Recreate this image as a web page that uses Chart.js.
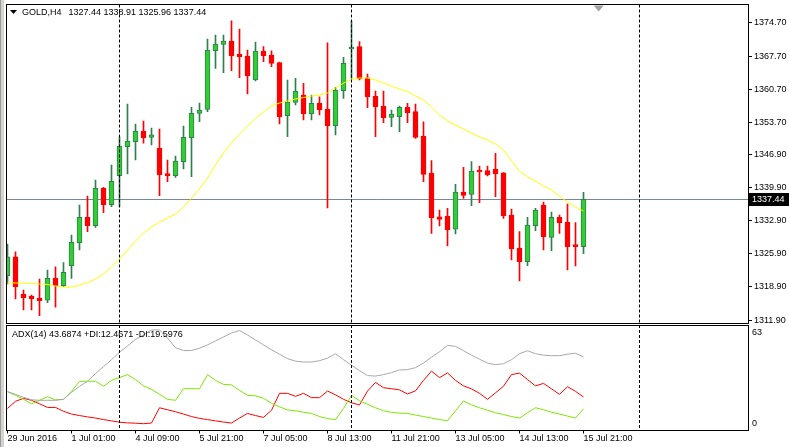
<!DOCTYPE html>
<html>
<head>
<meta charset="utf-8">
<script src="https://cdn.jsdelivr.net/npm/chart.js@4.4.0/dist/chart.umd.min.js"></script>
<style>
  html, body { margin: 0; padding: 0; background: #fff; }
  #wrap { position: relative; width: 789px; height: 447px; overflow: hidden; }
  canvas { position: absolute; left: 0; }
  #priceChart { top: 0; }
  #adxChart { top: 324px; }
</style>
</head>
<body>
<div id="wrap">
  <canvas id="priceChart" width="789" height="324"></canvas>
  <canvas id="adxChart" width="789" height="123"></canvas>
</div>
<script>
// GOLD H4 candles (bar 0 = 29 Jun 2016)
const openP = [1321.28, 1325.29, 1317.41, 1316.99, 1316.56, 1316.08, 1320.79, 1319.17, 1323.39, 1328.25,
  1333.62, 1331.85, 1339.75, 1336.29, 1342.42, 1348.55, 1349.60, 1351.87, 1350.53, 1348.27,
  1342.78, 1342.42, 1345.38, 1350.45, 1355.61, 1356.45, 1368.84, 1370.19, 1370.89, 1368.14,
  1367.72, 1362.65, 1368.78, 1367.93, 1366.31, 1355.10, 1357.93, 1359.48, 1355.46, 1357.72,
  1356.52, 1352.99, 1360.39, 1369.20, 1369.69, 1363.13, 1359.27, 1357.15, 1354.76, 1354.89,
  1356.88, 1355.95, 1350.81, 1342.99, 1333.75, 1333.90, 1331.09, 1338.97, 1338.48, 1343.48,
  1343.48, 1343.83, 1343.05, 1334.11, 1327.13, 1324.24, 1331.85, 1336.22, 1329.39, 1333.63,
  1332.63, 1327.70, 1327.44];
const highP = [1327.98, 1326.35, 1318.25, 1317.20, 1320.58, 1322.48, 1323.18, 1324.03, 1329.88, 1336.22,
  1338.13, 1341.51, 1339.95, 1344.68, 1350.66, 1357.57, 1353.35, 1353.98, 1352.50, 1352.29,
  1345.74, 1346.58, 1352.92, 1356.88, 1357.78, 1371.32, 1372.16, 1372.16, 1375.18, 1373.43,
  1368.99, 1370.68, 1369.69, 1368.84, 1366.45, 1362.65, 1363.00, 1361.95, 1359.48, 1359.10,
  1370.53, 1361.10, 1367.45, 1375.12, 1370.75, 1363.92, 1360.32, 1360.32, 1356.31, 1357.15,
  1357.72, 1357.57, 1353.83, 1345.59, 1335.17, 1335.53, 1340.60, 1344.19, 1345.38, 1344.47,
  1344.47, 1347.15, 1343.10, 1335.38, 1330.58, 1333.63, 1335.53, 1336.86, 1334.74, 1334.11,
  1336.43, 1332.49, 1338.91];
const lowP = [1319.52, 1316.35, 1314.03, 1314.03, 1312.82, 1315.57, 1314.60, 1318.95, 1320.73, 1326.71,
  1330.58, 1331.51, 1334.60, 1335.86, 1335.86, 1342.78, 1345.74, 1349.27, 1348.90, 1338.19,
  1341.15, 1342.08, 1343.83, 1342.21, 1353.83, 1355.95, 1365.12, 1364.19, 1364.61, 1363.13,
  1359.69, 1362.44, 1366.52, 1365.46, 1353.35, 1350.66, 1357.36, 1354.19, 1354.19, 1355.25,
  1335.59, 1351.02, 1358.78, 1363.00, 1362.65, 1356.79, 1350.66, 1353.62, 1352.78, 1351.72,
  1353.62, 1350.32, 1341.15, 1330.23, 1331.78, 1327.56, 1330.09, 1337.64, 1336.08, 1336.71,
  1342.36, 1337.98, 1333.41, 1324.60, 1320.16, 1323.39, 1330.79, 1326.71, 1326.56, 1330.23,
  1322.48, 1323.33, 1325.96];
const closeP = [1325.29, 1318.95, 1316.63, 1316.41, 1315.99, 1320.73, 1319.17, 1321.99, 1328.34, 1333.62,
  1331.85, 1339.75, 1336.29, 1341.23, 1348.70, 1349.75, 1351.87, 1350.45, 1351.08, 1342.63,
  1342.42, 1345.52, 1350.53, 1355.61, 1356.31, 1368.99, 1370.26, 1370.89, 1367.78, 1367.57,
  1363.56, 1368.78, 1367.78, 1366.18, 1354.89, 1358.00, 1360.32, 1355.52, 1357.72, 1356.31,
  1352.92, 1360.53, 1366.18, 1369.56, 1362.86, 1359.10, 1357.00, 1354.68, 1355.40, 1356.88,
  1355.74, 1350.53, 1342.71, 1333.54, 1333.20, 1330.94, 1338.97, 1338.27, 1343.41, 1343.20,
  1342.57, 1342.78, 1333.90, 1326.92, 1324.24, 1332.00, 1335.17, 1329.52, 1333.63, 1332.49,
  1327.41, 1327.41, 1337.44];

// yellow moving average
const maLine = [1319.80, 1319.73, 1319.73, 1319.63, 1319.52, 1319.42, 1319.10, 1318.89, 1318.82, 1319.31,
  1319.80, 1320.58, 1321.64, 1323.11, 1324.81, 1326.71, 1328.61, 1330.30, 1331.57, 1332.63,
  1333.47, 1334.32, 1335.80, 1337.70, 1339.61, 1341.93, 1344.68, 1347.22, 1349.33, 1351.23,
  1352.92, 1354.61, 1355.88, 1357.15, 1357.79, 1358.21, 1358.63, 1358.95, 1359.27, 1359.48,
  1359.90, 1360.96, 1362.01, 1362.75, 1363.07, 1363.07, 1362.65, 1362.01, 1361.38, 1360.75,
  1360.22, 1359.27, 1358.42, 1356.94, 1355.25, 1353.98, 1353.13, 1352.29, 1351.44, 1350.60,
  1349.96, 1349.12, 1347.85, 1345.52, 1343.41, 1342.14, 1341.30, 1340.24, 1339.40, 1338.13,
  1336.86, 1335.80, 1334.95];

// ADX(14) window
const adxLine = [22.8, 21.2, 19.4, 17.9, 17.6, 17.6, 17.6, 18.2, 22.4, 26.0,
  29.1, 33.7, 37.9, 42.1, 46.6, 50.4, 54.3, 57.0, 60.0, 60.0,
  55.2, 49.3, 47.6, 47.6, 49.0, 51.0, 53.4, 55.8, 58.2, 59.7,
  57.0, 54.0, 51.0, 48.1, 45.4, 42.7, 41.2, 40.7, 40.7, 41.5,
  43.0, 45.7, 42.1, 38.8, 35.5, 32.5, 32.2, 33.1, 34.3, 35.9,
  36.1, 37.3, 40.1, 43.6, 46.9, 50.7, 50.1, 47.5, 44.8, 42.4,
  40.0, 39.1, 39.7, 42.1, 45.7, 47.5, 45.7, 44.8, 44.5, 44.5,
  45.4, 46.0, 43.69];
const plusDI = [22.8, 20.6, 18.2, 15.5, 17.6, 19.8, 17.9, 18.2, 23.0, 29.0,
  29.1, 29.1, 26.1, 29.6, 31.3, 33.1, 30.1, 26.3, 24.2, 21.2,
  18.2, 17.6, 24.6, 24.6, 24.5, 33.1, 29.6, 27.2, 26.9, 23.6,
  20.6, 20.3, 18.8, 15.8, 13.7, 11.8, 11.3, 10.4, 9.7, 7.8,
  6.6, 5.9, 12.7, 20.6, 17.3, 15.2, 13.1, 11.3, 10.3, 9.9,
  9.7, 8.7, 7.8, 6.9, 6.0, 5.3, 11.3, 17.2, 14.9, 13.1,
  11.6, 10.1, 9.0, 7.8, 6.9, 10.1, 13.1, 11.9, 10.4, 9.3,
  8.1, 6.9, 12.47];
const minusDI = [12.7, 17.0, 18.8, 17.6, 15.5, 13.3, 13.3, 11.0, 9.3, 8.4,
  7.6, 6.9, 6.0, 5.2, 4.4, 4.0, 3.8, 3.5, 3.9, 13.1,
  11.9, 10.7, 9.3, 7.8, 6.7, 6.0, 5.2, 4.5, 3.9, 6.9,
  9.7, 8.4, 7.3, 11.6, 21.8, 21.8, 20.0, 21.8, 19.2, 19.2,
  23.2, 20.9, 18.2, 16.1, 14.8, 23.2, 28.4, 25.2, 24.6, 23.9,
  21.4, 23.3, 29.6, 35.2, 31.3, 34.1, 29.6, 26.3, 24.5, 21.8,
  18.2, 22.1, 26.1, 33.1, 34.0, 30.1, 26.3, 27.8, 24.5, 21.2,
  25.8, 23.0, 19.6];

const priceTicks = [1374.70, 1367.70, 1360.70, 1353.70, 1346.90, 1339.90, 1332.90, 1325.90, 1318.90, 1311.90];
const timeTickIdx = [0, 8, 16, 24, 32, 40, 48, 56, 64, 72];
const timeTickLabels = ['29 Jun 2016', '1 Jul 01:00', '4 Jul 09:00', '5 Jul 21:00', '7 Jul 05:00',
  '8 Jul 13:00', '11 Jul 21:00', '13 Jul 05:00', '14 Jul 13:00', '15 Jul 21:00'];
const separatorIdx = [14, 43, 79];
const bidPrice = 1337.44;
const adxHeader = 'ADX(14) 43.6874 +DI:12.4671 -DI:19.5976';

const FONT = "'Liberation Sans', Tahoma, sans-serif";
const BULL = '#32CD32', BULL_EDGE = '#2F7F4F', BEAR = '#FF0000';

const bars = openP.map((_, i) => i);
const isBull = bars.map(i => closeP[i] >= openP[i]);

// shared x mapping: 8px per bar, chart area from 6.5 to 748
const X_MIN = -0.125, X_MAX = 92.5625;

// keep the layout from reserving room for half-labels at the ends
function noPad(scale) {
  scale.paddingTop = 0;
  scale.paddingBottom = 0;
  scale.paddingLeft = 0;
  scale.paddingRight = 0;
}

function drawFrame(chart) {
  const ctx = chart.ctx;
  ctx.save();
  ctx.fillStyle = '#fff';
  ctx.fillRect(0, 0, chart.width, chart.height);
  ctx.fillStyle = '#9a9a9a';
  ctx.fillRect(0, 0, 1, chart.height);
  ctx.fillStyle = '#d6d3ce';
  ctx.fillRect(1, 0, 3, chart.height);
  ctx.restore();
}

function drawSeparators(chart) {
  const {ctx, chartArea: a} = chart;
  const xs = chart.scales.x;
  ctx.save();
  ctx.strokeStyle = '#000';
  ctx.lineWidth = 1;
  ctx.setLineDash([3, 2]);
  separatorIdx.forEach(idx => {
    const px = Math.floor(xs.getPixelForValue(idx)) + 0.5;
    ctx.beginPath();
    ctx.moveTo(px, a.top);
    ctx.lineTo(px, a.bottom);
    ctx.stroke();
  });
  ctx.setLineDash([]);
  ctx.strokeRect(Math.floor(a.left) + 0.5, Math.floor(a.top) + 0.5,
    Math.round(a.right) - Math.floor(a.left), Math.round(a.bottom) - Math.floor(a.top));
  ctx.restore();
}

const priceDecor = {
  id: 'priceDecor',
  beforeDraw(chart) { drawFrame(chart); },
  beforeDatasetsDraw(chart) {
    const {ctx, chartArea: a} = chart;
    const py = Math.floor(chart.scales.y.getPixelForValue(bidPrice)) + 0.5;
    ctx.save();
    ctx.strokeStyle = '#778899';
    ctx.lineWidth = 1;
    ctx.beginPath();
    ctx.moveTo(a.left, py);
    ctx.lineTo(a.right, py);
    ctx.stroke();
    ctx.restore();
  },
  afterDraw(chart) {
    const {ctx, chartArea: a} = chart;
    drawSeparators(chart);
    ctx.save();
    // header
    ctx.fillStyle = '#000';
    ctx.beginPath();
    ctx.moveTo(10, 10); ctx.lineTo(17, 10); ctx.lineTo(13.5, 14); ctx.closePath();
    ctx.fill();
    ctx.font = '9px ' + FONT;
    ctx.textBaseline = 'middle';
    ctx.fillText('GOLD,H4', 22, 13);
    const w = ctx.measureText('GOLD,H4').width;
    ctx.fillText([openP, highP, lowP, closeP].map(s => s[s.length - 1].toFixed(2)).join(' '), 22 + w + 7, 13);
    // bid price label on the axis
    const py = Math.floor(chart.scales.y.getPixelForValue(bidPrice));
    ctx.fillRect(a.right + 1, py - 6, chart.width - a.right - 1, 13);
    ctx.fillStyle = '#fff';
    ctx.fillText(bidPrice.toFixed(2), a.right + 4, py + 0.5);
    // chart shift marker
    const sx = chart.scales.x.getPixelForValue(73.9);
    ctx.fillStyle = '#a0a0a0';
    ctx.beginPath();
    ctx.moveTo(sx - 5, a.top + 1); ctx.lineTo(sx + 5, a.top + 1); ctx.lineTo(sx, a.top + 7); ctx.closePath();
    ctx.fill();
    ctx.restore();
  }
};

const adxDecor = {
  id: 'adxDecor',
  beforeDraw(chart) { drawFrame(chart); },
  afterDraw(chart) {
    const {ctx, chartArea: a} = chart;
    drawSeparators(chart);
    ctx.save();
    ctx.fillStyle = '#000';
    ctx.font = '9px ' + FONT;
    ctx.textBaseline = 'middle';
    ctx.fillText(adxHeader, 12, 11);
    const ys = chart.scales.y;
    ctx.fillText('63', a.right + 4, ys.getPixelForValue(63) + 8);
    ctx.fillText('0', a.right + 4, ys.getPixelForValue(0) - 6);
    ctx.restore();
  }
};

const xScaleBase = {
  type: 'linear',
  min: X_MIN,
  max: X_MAX,
  bounds: 'data',
  offset: false,
  grid: { display: false, offset: false },
  border: { display: false }
};

new Chart(document.getElementById('priceChart'), {
  type: 'bar',
  data: {
    datasets: [
      {
        type: 'line',
        data: maLine.map((v, i) => ({ x: i, y: v })),
        borderColor: '#FFFF00',
        borderWidth: 1,
        pointRadius: 0,
        tension: 0,
        order: 0
      },
      {
        type: 'bar',
        data: bars.map(i => ({ x: i, y: [openP[i], closeP[i]] })),
        backgroundColor: isBull.map(b => b ? BULL : BEAR),
        borderColor: isBull.map(b => b ? BULL_EDGE : BEAR),
        borderWidth: 1,
        borderSkipped: false,
        barThickness: 5,
        minBarLength: 2,
        grouped: false,
        order: 1
      },
      {
        type: 'bar',
        data: bars.map(i => ({ x: i, y: [lowP[i], highP[i]] })),
        backgroundColor: isBull.map(b => b ? BULL_EDGE : BEAR),
        borderWidth: 0,
        barThickness: 1,
        grouped: false,
        order: 2
      }
    ]
  },
  options: {
    responsive: false,
    animation: false,
    events: [],
    layout: { padding: { left: 6.5, top: 4.5, right: 0, bottom: 1 } },
    plugins: { legend: { display: false }, tooltip: { enabled: false } },
    scales: {
      x: Object.assign({}, xScaleBase, { display: false }),
      y: {
        type: 'linear',
        position: 'right',
        min: 1311.28,
        max: 1378.61,
        afterFit(scale) { scale.width = 41; noPad(scale); },
        afterBuildTicks(scale) { scale.ticks = priceTicks.map(v => ({ value: v })); },
        grid: { drawOnChartArea: false, drawTicks: true, tickLength: 4, color: '#000' },
        border: { display: false },
        ticks: {
          autoSkip: false,
          padding: 2,
          color: '#000',
          font: { family: FONT, size: 9 },
          callback: v => v.toFixed(2)
        }
      }
    }
  },
  plugins: [priceDecor]
});

new Chart(document.getElementById('adxChart'), {
  type: 'line',
  data: {
    datasets: [
      { data: adxLine.map((v, i) => ({ x: i, y: v })), borderColor: '#A8A8A8' },
      { data: plusDI.map((v, i) => ({ x: i, y: v })), borderColor: '#7CE800' },
      { data: minusDI.map((v, i) => ({ x: i, y: v })), borderColor: '#FF0000' }
    ]
  },
  options: {
    responsive: false,
    animation: false,
    events: [],
    elements: { line: { borderWidth: 1, tension: 0 }, point: { radius: 0 } },
    layout: { padding: { left: 6.5, top: 1, right: 0, bottom: 0 } },
    plugins: { legend: { display: false }, tooltip: { enabled: false } },
    scales: {
      x: Object.assign({}, xScaleBase, {
        display: true,
        afterFit(scale) { scale.height = 17.5; noPad(scale); },
        afterBuildTicks(scale) { scale.ticks = timeTickIdx.map(v => ({ value: v })); },
        grid: { display: true, drawOnChartArea: false, drawTicks: true, tickLength: 4, color: '#000', offset: false },
        ticks: {
          autoSkip: false,
          maxRotation: 0,
          align: 'start',
          padding: 0,
          color: '#000',
          font: { family: FONT, size: 9 },
          callback: v => timeTickLabels[timeTickIdx.indexOf(v)]
        }
      }),
      y: {
        type: 'linear',
        position: 'right',
        min: 0,
        max: 63,
        afterFit(scale) { scale.width = 41; noPad(scale); },
        grid: { display: false },
        border: { display: false },
        ticks: { display: false }
      }
    }
  },
  plugins: [adxDecor]
});
</script>
</body>
</html>
